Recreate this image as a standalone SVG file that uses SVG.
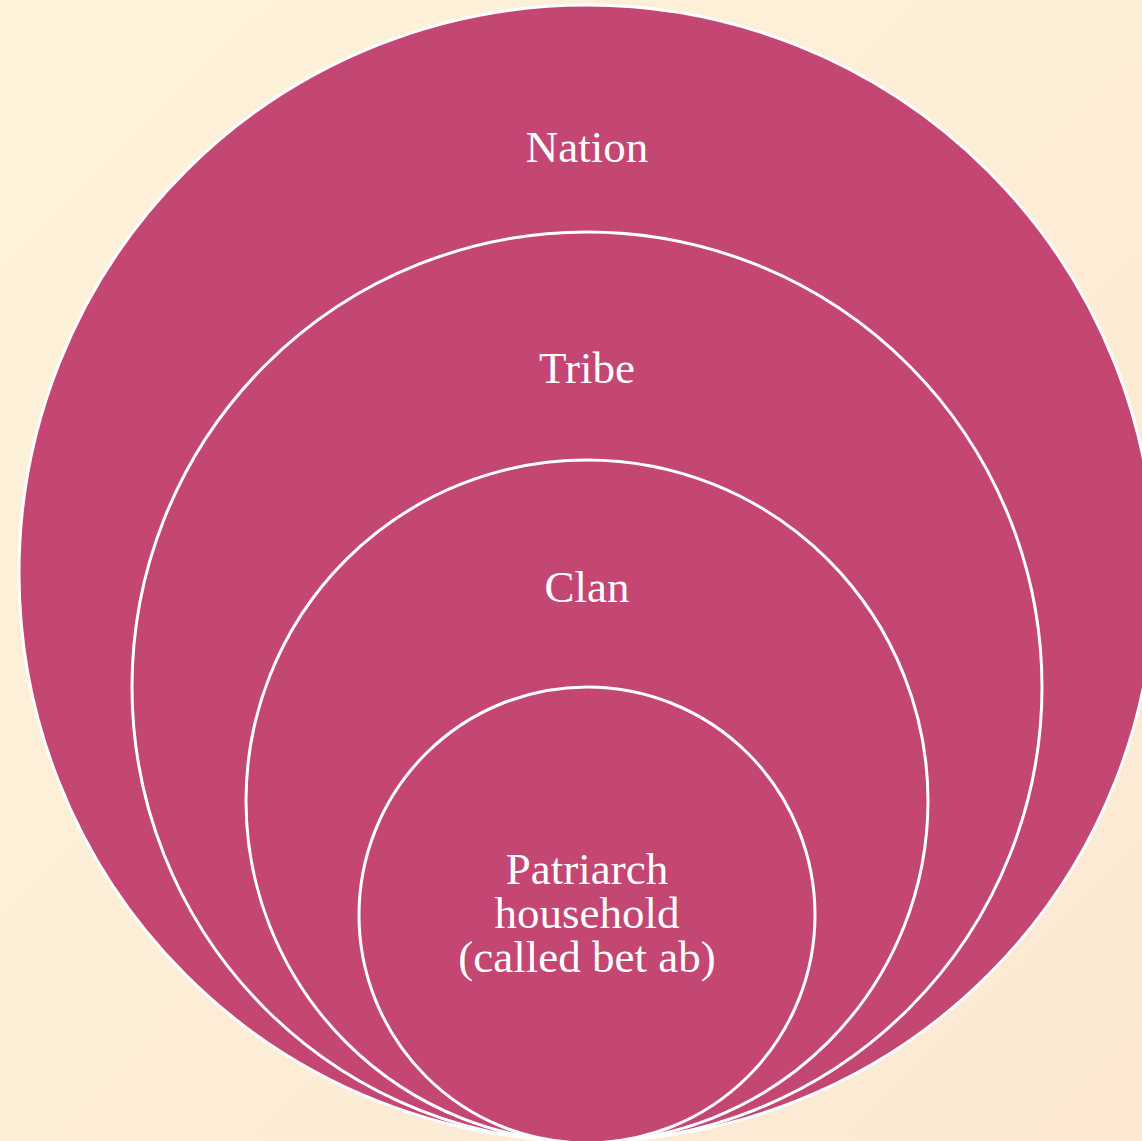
<svg xmlns="http://www.w3.org/2000/svg" width="1142" height="1141" viewBox="0 0 1142 1141">
<defs>
<linearGradient id="bg" x1="0" y1="0" x2="1" y2="1">
<stop offset="0" stop-color="#FEF3DA"/>
<stop offset="1" stop-color="#FCE8D2"/>
</linearGradient>
<style>
.ring{fill:#C44673;stroke:#FFFFFF;stroke-width:3}
.lbl{font-family:"Liberation Serif","Times New Roman",serif;font-size:45px;fill:#FFFFFF;text-anchor:middle}
</style>
</defs>
<rect x="0" y="0" width="1142" height="1141" fill="url(#bg)"/>
<g id="nation">
<circle class="ring" cx="587" cy="573" r="568"/>
<text class="lbl" x="587" y="162">Nation</text>
</g>
<g id="tribe">
<circle class="ring" cx="587" cy="687" r="455"/>
<text class="lbl" x="587" y="383">Tribe</text>
</g>
<g id="clan">
<circle class="ring" cx="587" cy="801" r="341"/>
<text class="lbl" x="587" y="602">Clan</text>
</g>
<g id="patriarch">
<circle class="ring" cx="587" cy="915" r="228"/>
<text class="lbl" x="587" y="884">Patriarch</text>
<text class="lbl" x="587" y="928">household</text>
<text class="lbl" x="587" y="972">(called bet ab)</text>
</g>
<g id="connectors"></g>
</svg>
